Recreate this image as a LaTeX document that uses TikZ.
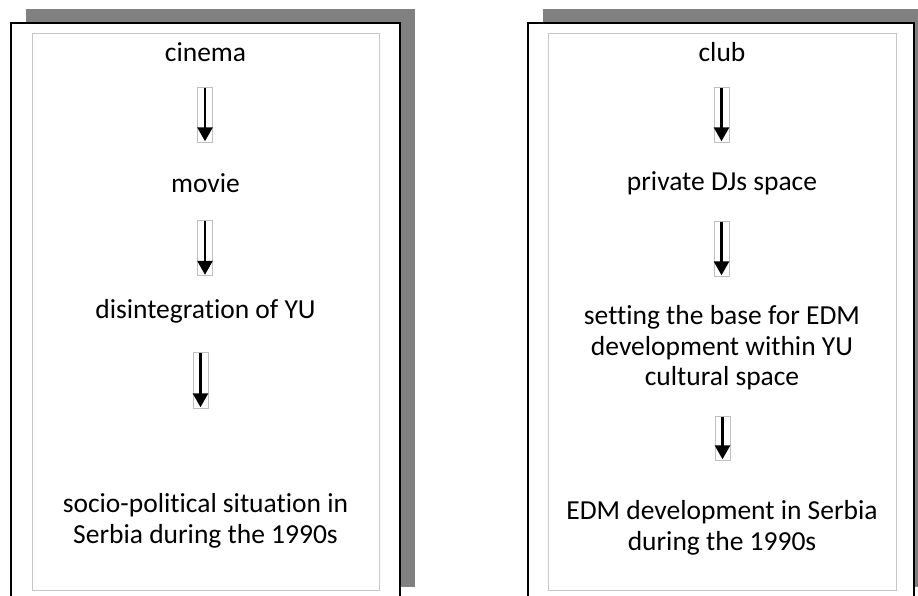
\documentclass[tikz,border=0pt]{standalone}
\usepackage{fontspec}
\setmainfont{Carlito}[Ligatures=NoCommon]
\usetikzlibrary{arrows.meta}
\begin{document}
\begin{tikzpicture}[x=1pt,y=-1pt,
  shadowbox/.style={fill=black!50,draw=none},
  framebox/.style={fill=white,draw=black,line width=2pt},
  innerbox/.style={draw=black!22,line width=0.9pt},
  label/.style={font=\fontsize{27.5}{30.5}\selectfont,align=center,inner sep=0pt},
  arrowbox/.style={draw=black!25,line width=0.6pt,minimum width=15pt,minimum height=55pt,inner sep=0pt},
  bigarrow/.style={line width=2.6pt,-{Triangle[width=15pt,length=14pt]},shorten <=1pt,shorten >=1pt}]
\useasboundingbox (0,0) rectangle (918,595);
\fill[white] (0,0) rectangle (918,595);

% left panel: shadow, frame and inner border
\fill[shadowbox] (26,9) rectangle (415,587);
\draw[framebox] (11,23) rectangle (400,601);
\draw[innerbox] (32,33) rectangle (379,590);

% right panel
\fill[shadowbox] (543,9) rectangle (930,587);
\draw[framebox] (528,23) rectangle (914,601);
\draw[innerbox] (548,33) rectangle (896,590);

% left chain
\node[label] (cinema) at (205.5,52) {cinema};
\node[label] (movie) at (205.5,183) {movie};
\node[label] (yu) at (205.5,311) {disintegration of YU};
\node[label] (socio) at (205.5,521) {socio-political situation in\\Serbia during the 1990s};
\node[arrowbox] (la1) at (205,114.5) {};
\node[arrowbox] (la2) at (205,248) {};
\node[arrowbox,minimum height=56pt] (la3) at (200.5,380) {};
\draw[bigarrow] (la1.north) -- (la1.south);
\draw[bigarrow] (la2.north) -- (la2.south);
\draw[bigarrow] (la3.north) -- (la3.south);

% right chain
\node[label] (club) at (722,52) {club};
\node[label] (djs) at (722,183) {private DJs space};
\node[label] (base) at (722,348) {setting the base for EDM\\development within YU\\cultural space};
\node[label] (edm) at (722,528) {EDM development in Serbia\\during the 1990s};
\node[arrowbox] (ra1) at (721.5,114.5) {};
\node[arrowbox] (ra2) at (721.5,248.5) {};
\node[arrowbox,minimum height=44pt] (ra3) at (722.5,438) {};
\draw[bigarrow] (ra1.north) -- (ra1.south);
\draw[bigarrow] (ra2.north) -- (ra2.south);
\draw[bigarrow] (ra3.north) -- (ra3.south);
\end{tikzpicture}
\end{document}
